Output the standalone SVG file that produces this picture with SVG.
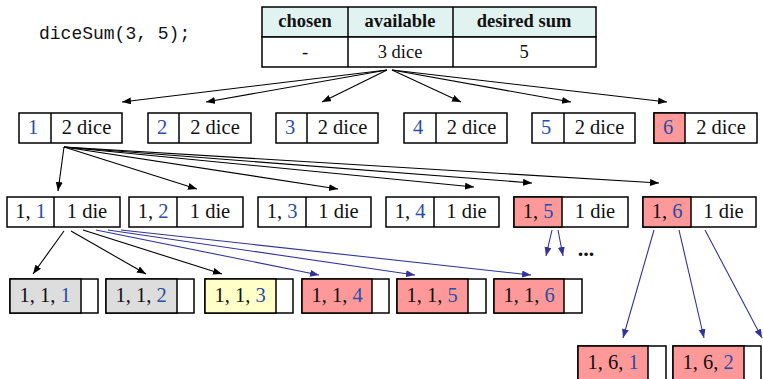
<svg xmlns="http://www.w3.org/2000/svg" width="763" height="379" viewBox="0 0 763 379">
<defs>
<marker id="ah" markerUnits="userSpaceOnUse" markerWidth="10" markerHeight="8" refX="9" refY="3.5" orient="auto"><path d="M0,0 L9,3.5 L0,7 z" fill="#000"/></marker>
<marker id="ahb" markerUnits="userSpaceOnUse" markerWidth="10" markerHeight="8" refX="9" refY="3.5" orient="auto"><path d="M0,0 L9,3.5 L0,7 z" fill="#33339a"/></marker>
<style>
.b{fill:#fff;stroke:#000;stroke-width:1.5}
.r{fill:#ff9999;stroke:#000;stroke-width:1.5}
.g{fill:#dddddd;stroke:#000;stroke-width:1.5}
.y{fill:#ffffc8;stroke:#000;stroke-width:1.5}
.h{fill:#e1f3f1;stroke:#000;stroke-width:1.5}
.l{stroke:#000;stroke-width:1.5}
text{font-family:"Liberation Serif","DejaVu Serif",serif;font-size:20.5px;fill:#111;text-anchor:middle}
.hd{font-weight:bold;font-size:18.5px}
.t{font-size:18.5px}
.d{fill:#2a4da6}
.code{font-family:"Liberation Mono","DejaVu Sans Mono",monospace;font-size:18px;text-anchor:start}
.k{stroke:#000;stroke-width:1.1;fill:none;marker-end:url(#ah)}
.bl{stroke:#33339a;stroke-width:1.1;fill:none;marker-end:url(#ahb)}
</style>
</defs>
<text class="code" x="39" y="39">diceSum(3, 5);</text>
<g id="root">
<rect class="h" x="262" y="7" width="334" height="30"/>
<rect class="b" x="262" y="37" width="334" height="30"/>
<line class="l" x1="348" y1="7" x2="348" y2="67"/>
<line class="l" x1="453" y1="7" x2="453" y2="67"/>
<text class="hd" x="305" y="27">chosen</text>
<text class="hd" x="400" y="27">available</text>
<text class="hd" x="524" y="27">desired sum</text>
<text class="t" x="305" y="58">-</text>
<text class="t" x="400" y="58">3 dice</text>
<text class="t" x="524" y="58">5</text>
</g>
<g id="n1"><rect class="b" x="19" y="113" width="103" height="30"/><line class="l" x1="51" y1="113" x2="51" y2="143"/><text class="d" x="33" y="134">1</text><text x="86.5" y="134">2 dice</text></g>
<g id="n2"><rect class="b" x="148" y="113" width="103" height="30"/><line class="l" x1="179" y1="113" x2="179" y2="143"/><text class="d" x="162" y="134">2</text><text x="215" y="134">2 dice</text></g>
<g id="n3"><rect class="b" x="276" y="113" width="102" height="30"/><line class="l" x1="307" y1="113" x2="307" y2="143"/><text class="d" x="290" y="134">3</text><text x="342.5" y="134">2 dice</text></g>
<g id="n4"><rect class="b" x="404" y="113" width="103" height="30"/><line class="l" x1="436" y1="113" x2="436" y2="143"/><text class="d" x="418" y="134">4</text><text x="471.5" y="134">2 dice</text></g>
<g id="n5"><rect class="b" x="532" y="113" width="103" height="30"/><line class="l" x1="564" y1="113" x2="564" y2="143"/><text class="d" x="546" y="134">5</text><text x="599.5" y="134">2 dice</text></g>
<g id="n6"><rect class="b" x="654" y="113" width="103" height="30"/><rect class="r" x="654" y="113" width="31" height="30"/><text class="d" x="668" y="134">6</text><text x="721" y="134">2 dice</text></g>

<g id="n11"><rect class="b" x="7" y="197" width="113" height="30"/><line class="l" x1="54" y1="197" x2="54" y2="227"/><text x="30.5" y="218">1, <tspan class="d">1</tspan></text><text x="87" y="218">1 die</text></g>
<g id="n12"><rect class="b" x="129" y="197" width="114" height="30"/><line class="l" x1="177" y1="197" x2="177" y2="227"/><text x="153" y="218">1, <tspan class="d">2</tspan></text><text x="210" y="218">1 die</text></g>
<g id="n13"><rect class="b" x="258" y="197" width="113" height="30"/><line class="l" x1="306" y1="197" x2="306" y2="227"/><text x="282" y="218">1, <tspan class="d">3</tspan></text><text x="338.5" y="218">1 die</text></g>
<g id="n14"><rect class="b" x="386" y="197" width="113" height="30"/><line class="l" x1="434" y1="197" x2="434" y2="227"/><text x="410" y="218">1, <tspan class="d">4</tspan></text><text x="466.5" y="218">1 die</text></g>
<g id="n15"><rect class="b" x="514" y="197" width="114" height="30"/><rect class="r" x="514" y="197" width="48" height="30"/><text x="538" y="218">1, <tspan class="d">5</tspan></text><text x="595" y="218">1 die</text></g>
<g id="n16"><rect class="b" x="643" y="197" width="113" height="30"/><rect class="r" x="643" y="197" width="48" height="30"/><text x="667" y="218">1, <tspan class="d">6</tspan></text><text x="723.5" y="218">1 die</text></g>

<g id="n111"><rect class="b" x="10" y="279" width="88" height="34"/><rect class="g" x="10" y="279" width="71" height="34"/><text x="45" y="302">1, 1, <tspan class="d">1</tspan></text></g>
<g id="n112"><rect class="b" x="106" y="279" width="88" height="34"/><rect class="g" x="106" y="279" width="71" height="34"/><text x="141" y="302">1, 1, <tspan class="d">2</tspan></text></g>
<g id="n113"><rect class="b" x="205" y="279" width="88" height="34"/><rect class="y" x="205" y="279" width="71" height="34"/><text x="240" y="302">1, 1, <tspan class="d">3</tspan></text></g>
<g id="n114"><rect class="b" x="302" y="279" width="87" height="34"/><rect class="r" x="302" y="279" width="70" height="34"/><text x="337" y="302">1, 1, <tspan class="d">4</tspan></text></g>
<g id="n115"><rect class="b" x="397" y="279" width="89" height="34"/><rect class="r" x="397" y="279" width="71" height="34"/><text x="432" y="302">1, 1, <tspan class="d">5</tspan></text></g>
<g id="n116"><rect class="b" x="494" y="279" width="88" height="34"/><rect class="r" x="494" y="279" width="70" height="34"/><text x="529" y="302">1, 1, <tspan class="d">6</tspan></text></g>

<g id="n161"><rect class="b" x="578" y="346" width="88" height="36"/><rect class="r" x="578" y="346" width="70" height="36"/><text x="613" y="369">1, 6, <tspan class="d">1</tspan></text></g>
<g id="n162"><rect class="b" x="673" y="346" width="88" height="36"/><rect class="r" x="673" y="346" width="71" height="36"/><text x="708" y="369">1, 6, <tspan class="d">2</tspan></text></g>

<text x="586" y="256" style="font-weight:bold;font-size:22px">...</text>

<g id="connectors">
<path class="k" d="M387,70 L122,102"/>
<path class="k" d="M387,70 L206,102"/>
<path class="k" d="M387,70 L322,102"/>
<path class="k" d="M392,70 L461,102"/>
<path class="k" d="M392,70 L571,102"/>
<path class="k" d="M392,70 L667,102"/>
<path class="k" d="M64,147 L58,191"/>
<path class="k" d="M64,147 L197,189"/>
<path class="k" d="M64,147 L338,189"/>
<path class="k" d="M64,147 L474,187"/>
<path class="k" d="M64,147 L532,183"/>
<path class="k" d="M64,147 L659,183"/>
<path class="k" d="M64,231 L33,274"/>
<path class="k" d="M71,231 L146,274"/>
<path class="k" d="M83,230 L222,274"/>
<path class="bl" d="M96,230 L319,275"/>
<path class="bl" d="M108,230 L415,275"/>
<path class="bl" d="M121,230 L531,275"/>
<path class="bl" d="M552,230 L546,256"/>
<path class="bl" d="M558,230 L563,256"/>
<path class="bl" d="M654,230 L623,338"/>
<path class="bl" d="M679,230 L704,338"/>
<path class="bl" d="M705,230 L762,338"/>
</g>
</svg>
